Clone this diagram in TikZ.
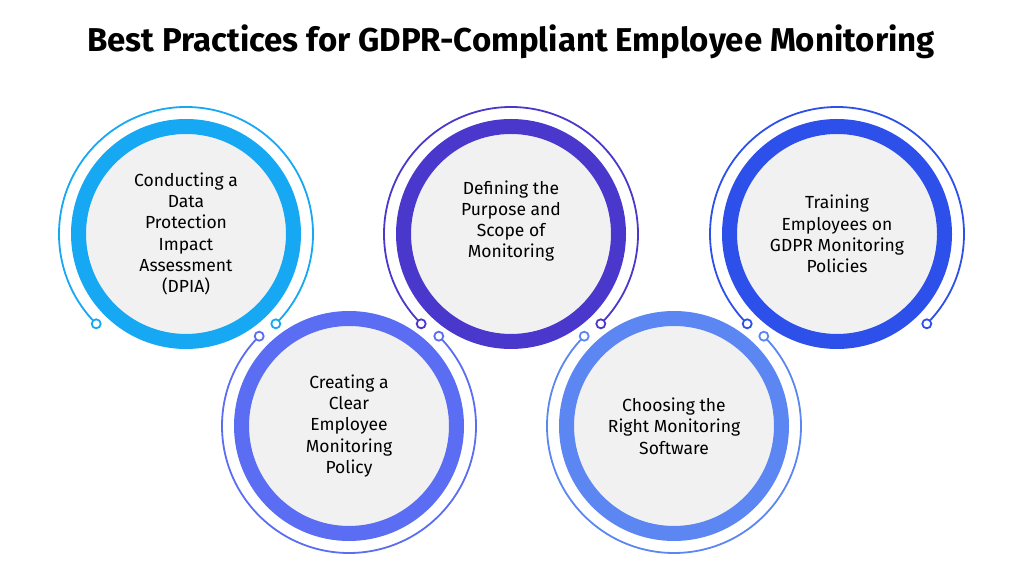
\documentclass[tikz,border=0pt]{standalone}
\usepackage{fontspec}
\setmainfont{Fira Sans}
\usetikzlibrary{calc}

\definecolor{skyblue}{HTML}{17A8F3}
\definecolor{periwinkle}{HTML}{5B6DF2}
\definecolor{indigo}{HTML}{4A38CC}
\definecolor{royal}{HTML}{2E50EA}
\definecolor{cornflower}{HTML}{5C87F2}
\definecolor{discgray}{HTML}{F1F1F2}
\definecolor{shadegray}{HTML}{DCDCDE}

\tikzset{
  band/.style={line width=15pt},
  rim/.style={line width=1.8pt},
  disc/.style={circle, fill=discgray, minimum size=200pt, inner sep=0pt},
  shade/.style={circle, fill=shadegray, minimum size=200pt, inner sep=0pt},
  tip/.style={circle, draw, fill=white, line width=1.8pt, minimum size=9pt, inner sep=0pt},
  steptext/.style={align=center, font=\fontsize{17.5}{21.3}\selectfont}
}

\begin{document}
\begin{tikzpicture}[x=1pt, y=1pt]
\useasboundingbox (0,0) rectangle (1024,577);

\node[font=\fontsize{33}{38}\selectfont\bfseries] (title) at (511,535) {Best Practices for GDPR-Compliant Employee Monitoring};

% step 1
\node[shade] at (186,340) {};
\node[disc] (dpia) at (186,343) {};
\draw[band, skyblue] (dpia.center) circle (107.5);
\draw[rim, skyblue] ($(dpia.center)+(-45:127)$) arc[start angle=-45, end angle=225, radius=127];
\node[tip, draw=skyblue] (dpiaR) at ($(dpia.center)+(-45:127)$) {};
\node[tip, draw=skyblue] (dpiaL) at ($(dpia.center)+(225:127)$) {};
\node[steptext] (dpiatext) at (dpia.center) {Conducting a\\Data\\Protection\\Impact\\Assessment\\(DPIA)};

% step 2
\node[shade] at (349,148) {};
\node[disc] (policy) at (349,151) {};
\draw[band, periwinkle] (policy.center) circle (107.5);
\draw[rim, periwinkle] ($(policy.center)+(135:127)$) arc[start angle=135, end angle=405, radius=127];
\node[tip, draw=periwinkle] (policyL) at ($(policy.center)+(135:127)$) {};
\node[tip, draw=periwinkle] (policyR) at ($(policy.center)+(45:127)$) {};
\node[steptext] (policytext) at (policy.center) {Creating a\\Clear\\Employee\\Monitoring\\Policy};

% step 3
\node[shade] at (511,340) {};
\node[disc] (purpose) at (511,343) {};
\draw[band, indigo] (purpose.center) circle (107.5);
\draw[rim, indigo] ($(purpose.center)+(-45:127)$) arc[start angle=-45, end angle=225, radius=127];
\node[tip, draw=indigo] (purposeR) at ($(purpose.center)+(-45:127)$) {};
\node[tip, draw=indigo] (purposeL) at ($(purpose.center)+(225:127)$) {};
\node[steptext] (purposetext) at ($(purpose.center)+(0,13)$) {Defining the\\Purpose and\\Scope of\\Monitoring};

% step 4
\node[shade] at (674,148) {};
\node[disc] (software) at (674,151) {};
\draw[band, cornflower] (software.center) circle (107.5);
\draw[rim, cornflower] ($(software.center)+(135:127)$) arc[start angle=135, end angle=405, radius=127];
\node[tip, draw=cornflower] (softwareL) at ($(software.center)+(135:127)$) {};
\node[tip, draw=cornflower] (softwareR) at ($(software.center)+(45:127)$) {};
\node[steptext] (softwaretext) at (software.center) {Choosing the\\Right Monitoring\\Software};

% step 5
\node[shade] at (837,340) {};
\node[disc] (training) at (837,343) {};
\draw[band, royal] (training.center) circle (107.5);
\draw[rim, royal] ($(training.center)+(-45:127)$) arc[start angle=-45, end angle=225, radius=127];
\node[tip, draw=royal] (trainingR) at ($(training.center)+(-45:127)$) {};
\node[tip, draw=royal] (trainingL) at ($(training.center)+(225:127)$) {};
\node[steptext] (trainingtext) at (training.center) {Training\\Employees on\\GDPR Monitoring\\Policies};

\end{tikzpicture}
\end{document}
